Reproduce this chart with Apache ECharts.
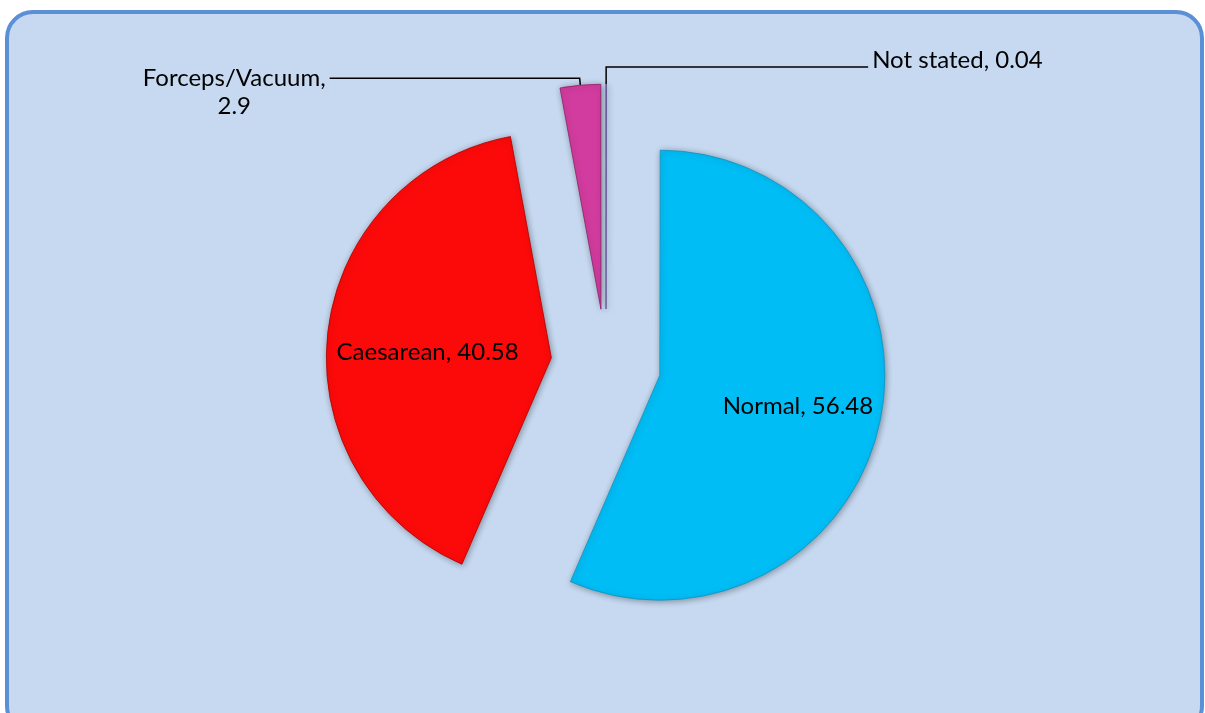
<!DOCTYPE html>
<html>
<head>
<meta charset="utf-8">
<script src="https://cdn.jsdelivr.net/npm/echarts@6/dist/echarts.min.js"></script>
<style>
html,body{margin:0;padding:0;background:#ffffff;}
#chart{width:1205px;height:713px;}
</style>
</head>
<body>
<div id="chart"></div>
<script>
const categories = ['Normal', 'Caesarean', 'Forceps/Vacuum', 'Not stated'];
const values = [56.48, 40.58, 2.9, 0.04];
const colors = ['#00BDF5', '#FC0A0A', '#D23C9E', '#8E6CBF'];
const edgeColors = ['#1590C0', '#B00000', '#8E1E6A', '#5E4A8F'];

const chart = echarts.init(document.getElementById('chart'), null, {renderer: 'canvas'});

const txt = {align: 'center', fontFamily: 'Lato', fontSize: 24, lineHeight: 28, color: '#000'};
const labelSpecs = [
  {position: 'inside', padding: [16, 0, 0, 50], formatter: '{a|{b}, {c}}'},
  {position: 'inside', padding: [14, 18, 0, 0], formatter: '{a|{b}, {c}}'},
  {position: 'outside', padding: [28, 0, 0, 0], formatter: '{a|{b},}\n{a|{c}}'},
  {position: 'outside', padding: [0, 0, 14, 0], formatter: '{a|{b}, {c}}'}
];
const lineSpecs = [
  {show: false},
  {show: false},
  {show: true, length: 7, length2: 250},
  {show: true, length: 17, length2: 262}
];

const data = categories.map((name, i) => ({
  name: name,
  value: values[i],
  selected: true,
  itemStyle: {
    color: colors[i],
    borderColor: edgeColors[i],
    borderWidth: 0.8,
    shadowBlur: 6,
    shadowColor: 'rgba(0,0,0,0.35)',
    shadowOffsetX: 1,
    shadowOffsetY: 1
  },
  label: Object.assign({show: true, rich: {a: txt}}, labelSpecs[i]),
  labelLine: lineSpecs[i]
}));

chart.setOption({
  backgroundColor: '#ffffff',
  animation: false,
  graphic: [{
    type: 'rect',
    shape: {x: 7, y: 12, width: 1195, height: 720, r: 26},
    style: {fill: '#C6D9F0', stroke: '#5B8FD6', lineWidth: 4},
    z: -10,
    silent: true
  }],
  series: [{
    type: 'pie',
    center: [606, 364],
    radius: 225,
    startAngle: 89.9,
    clockwise: true,
    selectedMode: 'multiple',
    selectedOffset: 55,
    avoidLabelOverlap: false,
    minAngle: 0,
    label: {
      color: '#000000',
      fontFamily: 'Lato',
      fontSize: 24,
      lineHeight: 28,
      distanceToLabelLine: 4
    },
    labelLine: {
      lineStyle: {color: '#000000', width: 1.5}
    },
    emphasis: {disabled: true},
    data: data
  }]
});
</script>
</body>
</html>
